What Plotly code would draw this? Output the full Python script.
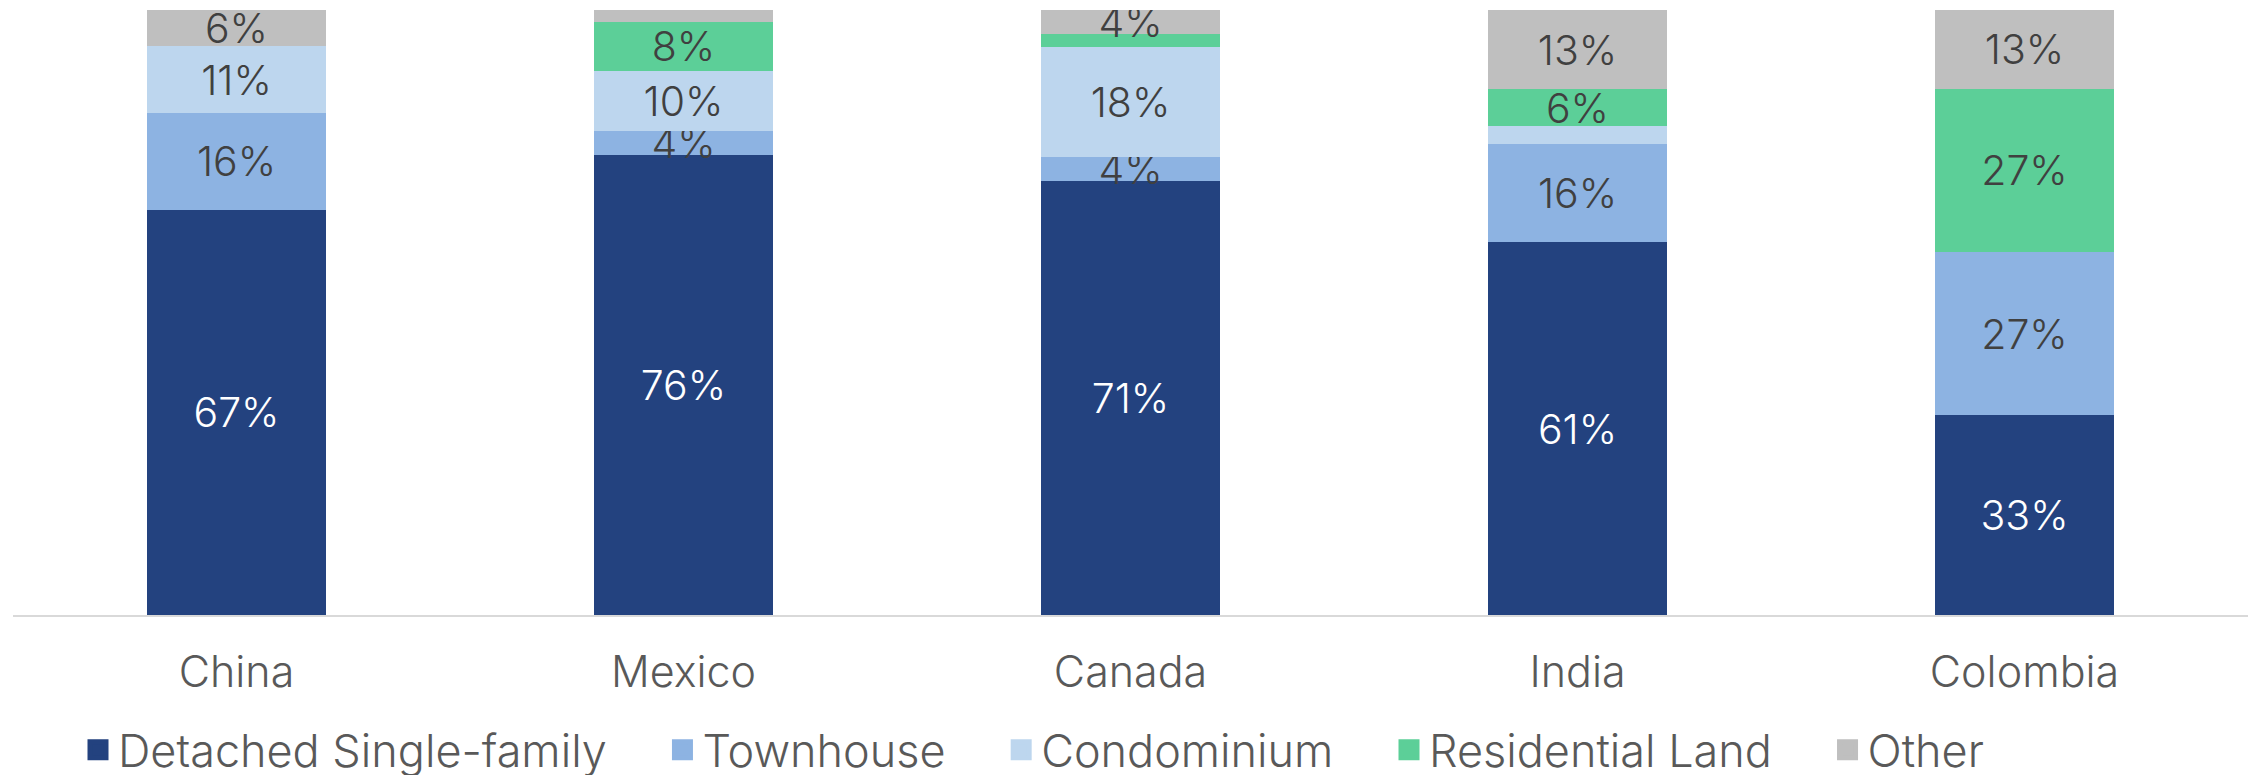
import plotly.graph_objects as go

countries = ["China", "Mexico", "Canada", "India", "Colombia"]

detached = [67, 76, 71, 61, 33]
townhouse = [16, 4, 4, 16, 27]
condominium = [11, 10, 18, 3, 0]
residential_land = [0, 8, 2, 6, 27]
other = [6, 2, 4, 13, 13]

series = [
    ("Detached Single-family", detached, "#23427f", "#ffffff"),
    ("Townhouse", townhouse, "#8db3e2", "#404040"),
    ("Condominium", condominium, "#bdd6ee", "#404040"),
    ("Residential Land", residential_land, "#5ccf98", "#404040"),
    ("Other", other, "#bfbfbf", "#404040"),
]

FONT = "Inter"
GAP = "\u00a0" * 4  # extra room after each legend entry

fig = go.Figure()
for name, vals, color, tcolor in series:
    # small segments carry no label
    labels = [f"{v}%" if v >= 4 else "" for v in vals]
    fig.add_trace(go.Bar(
        name=name,
        x=countries,
        y=vals,
        marker=dict(color=color, line=dict(width=0)),
        text=labels,
        texttemplate="%{text}",
        textposition="inside",
        insidetextanchor="middle",
        textangle=0,
        insidetextfont=dict(family=FONT, size=41, color=tcolor, weight=300),
        hoverinfo="skip",
        showlegend=False,
    ))

# legend entries with large square swatches
for name, vals, color, tcolor in series:
    fig.add_trace(go.Scatter(
        name=name + GAP,
        x=[None],
        y=[None],
        mode="markers",
        marker=dict(symbol="square", size=16, color=color,
                    line=dict(color=color, width=5)),
        hoverinfo="skip",
    ))

fig.update_layout(
    barmode="stack",
    barnorm="percent",
    bargap=0.6,
    width=2252,
    height=775,
    margin=dict(l=13, r=4, t=10, b=160),
    paper_bgcolor="white",
    plot_bgcolor="white",
    uniformtext=dict(mode="show", minsize=41),
    font=dict(family=FONT, color="#595959", weight=300),
    xaxis=dict(
        showline=True,
        linecolor="#d9d9d9",
        linewidth=2,
        ticks="",
        tickfont=dict(family=FONT, size=43, color="#595959", weight=300),
        ticklabelstandoff=18,
        showgrid=False,
    ),
    yaxis=dict(range=[0, 100], visible=False, showgrid=False),
    legend=dict(
        orientation="h",
        x=78 / 2252,
        xanchor="left",
        xref="container",
        y=25 / 775,
        yanchor="middle",
        yref="container",
        font=dict(family=FONT, size=45, color="#595959", weight=300),
        traceorder="normal",
        itemsizing="trace",
    ),
)

fig.write_html("out.html")
